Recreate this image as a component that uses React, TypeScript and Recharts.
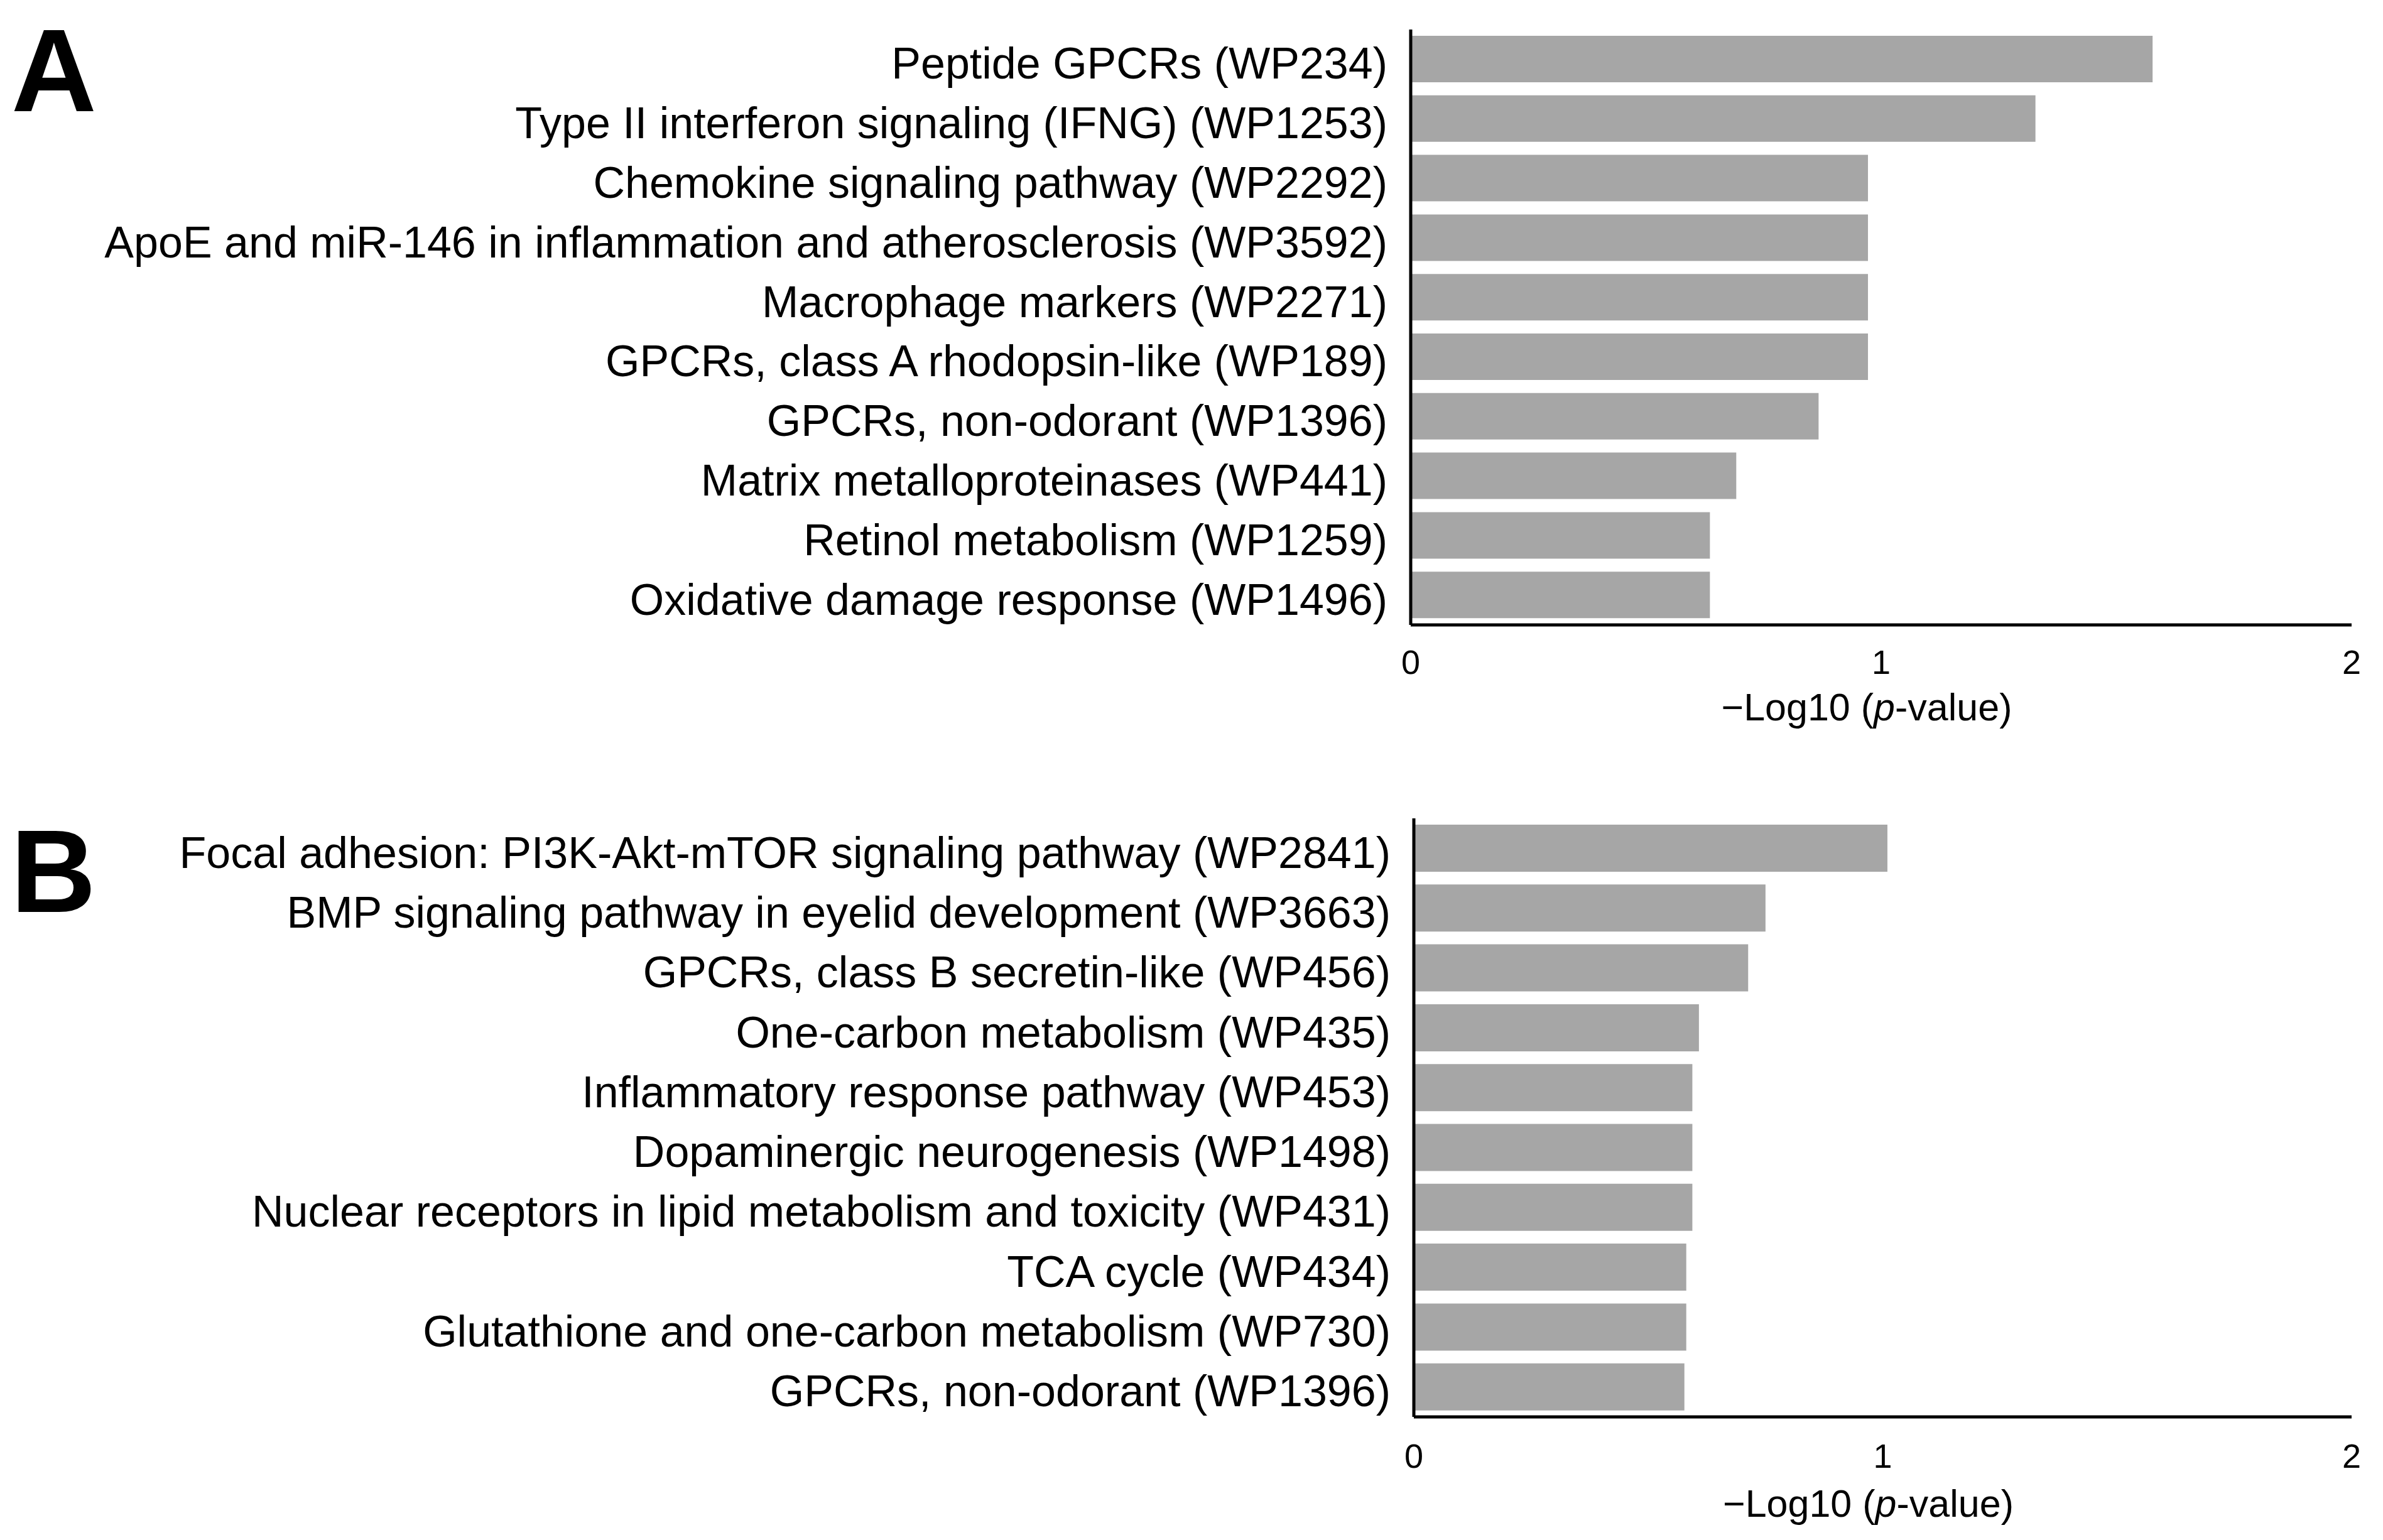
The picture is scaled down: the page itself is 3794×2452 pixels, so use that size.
import React from 'react';
import { BarChart, Bar, XAxis, YAxis, Label } from 'recharts';

const FONT = '"Liberation Sans", Arial, Helvetica, sans-serif';

const pathwaysA = [
  'Peptide GPCRs (WP234)',
  'Type II interferon signaling (IFNG) (WP1253)',
  'Chemokine signaling pathway (WP2292)',
  'ApoE and miR-146 in inflammation and atherosclerosis (WP3592)',
  'Macrophage markers (WP2271)',
  'GPCRs, class A rhodopsin-like (WP189)',
  'GPCRs, non-odorant (WP1396)',
  'Matrix metalloproteinases (WP441)',
  'Retinol metabolism (WP1259)',
  'Oxidative damage response (WP1496)',
];
const valuesA = [1.577, 1.328, 0.972, 0.972, 0.972, 0.972, 0.867, 0.692, 0.636, 0.636];

const pathwaysB = [
  'Focal adhesion: PI3K-Akt-mTOR signaling pathway (WP2841)',
  'BMP signaling pathway in eyelid development (WP3663)',
  'GPCRs, class B secretin-like (WP456)',
  'One-carbon metabolism (WP435)',
  'Inflammatory response pathway (WP453)',
  'Dopaminergic neurogenesis (WP1498)',
  'Nuclear receptors in lipid metabolism and toxicity (WP431)',
  'TCA cycle (WP434)',
  'Glutathione and one-carbon metabolism (WP730)',
  'GPCRs, non-odorant (WP1396)',
];
const valuesB = [1.01, 0.75, 0.713, 0.608, 0.594, 0.594, 0.594, 0.581, 0.581, 0.577];

const xTicks = [0, 1, 2];
const panelLetters = ['A', 'B'];

const dataA = pathwaysA.map((name, i) => ({ name, value: valuesA[i] }));
const dataB = pathwaysB.map((name, i) => ({ name, value: valuesB[i] }));

const YTick = (props: any) => {
  const { x, y, payload } = props;
  return (
    <text x={x - 37} y={y + 7} textAnchor="end" dominantBaseline="central" fontSize={70} fill="#000" fontFamily={FONT}>
      {payload.value}
    </text>
  );
};

const makeXTick = (dy: number) => (props: any) => {
  const { x, y, payload } = props;
  return (
    <text x={x} y={y + dy} textAnchor="middle" dominantBaseline="central" fontSize={54} fill="#000" fontFamily={FONT}>
      {payload.value}
    </text>
  );
};

const makeTitle = (dy: number) => (p: any) => {
  const vb = p.viewBox || {};
  return (
    <text x={vb.x + vb.width / 2 - 23} y={vb.y + dy} textAnchor="middle" dominantBaseline="central" fontSize={61} fill="#000" fontFamily={FONT}>
      <tspan>{'\u2212Log10 ('}</tspan>
      <tspan fontStyle="italic">p</tspan>
      <tspan>{'-value)'}</tspan>
    </text>
  );
};

function Panel({ data, top, height, plotTop, plotBottom, axisX, barSize, tickDy, titleDy }: any) {
  const XTick = makeXTick(tickDy);
  return (
    <div style={{ position: 'absolute', left: 0, top }}>
      <BarChart
        width={3794}
        height={height}
        data={data}
        layout="vertical"
        margin={{ top: plotTop, right: 50, left: 0, bottom: 0 }}
      >
        <XAxis
          type="number"
          domain={[0, 2]}
          ticks={xTicks}
          tick={<XTick />}
          tickLine={false}
          tickSize={0}
          tickMargin={0}
          axisLine={{ stroke: '#000', strokeWidth: 5 }}
          height={height - plotBottom}
        >
          <Label content={makeTitle(titleDy)} />
        </XAxis>
        <YAxis
          type="category"
          dataKey="name"
          width={axisX}
          tick={<YTick />}
          tickLine={false}
          tickSize={0}
          tickMargin={0}
          interval={0}
          axisLine={{ stroke: '#000', strokeWidth: 5 }}
        />
        <Bar dataKey="value" fill="#a6a6a6" barSize={barSize} isAnimationActive={false} />
      </BarChart>
    </div>
  );
}

export default function App() {
  return (
    <div style={{ position: 'absolute', left: 0, top: 0, width: 3794, height: 2452, background: '#fff' }}>
      <Panel data={dataA} top={0} height={1200} plotTop={47} plotBottom={995} axisX={2246} barSize={74} tickDy={59} titleDy={131} />
      <Panel data={dataB} top={1250} height={1202} plotTop={53} plotBottom={1006} axisX={2251} barSize={75} tickDy={62} titleDy={138} />
      <svg width={3794} height={2452} style={{ position: 'absolute', left: 0, top: 0, pointerEvents: 'none' }}>
        <text x={18} y={177} fontSize={188} fontWeight="bold" fontFamily={FONT} fill="#000">{panelLetters[0]}</text>
        <text x={17} y={1452} fontSize={188} fontWeight="bold" fontFamily={FONT} fill="#000">{panelLetters[1]}</text>
      </svg>
    </div>
  );
}
